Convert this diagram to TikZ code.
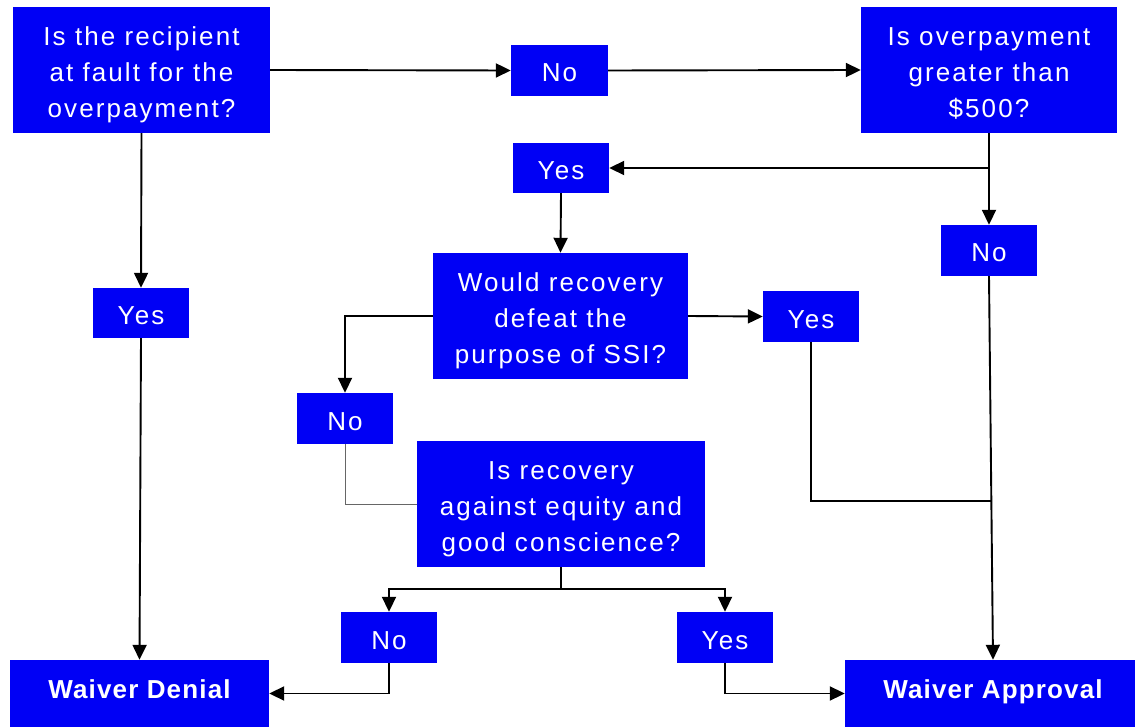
\documentclass[tikz,border=0pt]{standalone}
\usepackage{fontspec}
\setmainfont{Liberation Sans}[LetterSpace=8]
\usetikzlibrary{arrows.meta}
\definecolor{boxblue}{RGB}{0,0,245}
\tikzset{
  box/.style={fill=boxblue, text=white, inner sep=0pt, align=center,
    font=\fontsize{26}{36}\selectfont},
  onebox/.style={box, text height=25pt, text depth=2pt},
  threebox/.style={box, text height=97pt, text depth=2.6pt},
  endbox/.style={box, font=\fontsize{26}{36}\selectfont\bfseries\addfontfeature{LetterSpace=4.5},
    text height=18pt, text depth=9pt},
  arr/.style={draw=black, line width=1.9pt, -{Triangle[length=15pt,width=14pt]}},
  ln/.style={draw=black, line width=1.9pt},
  thinln/.style={draw=black!60, line width=1pt}
}
\begin{document}
\begin{tikzpicture}[x=1pt,y=-1pt]
\clip (0,0) rectangle (1135,727);
\fill[white] (0,0) rectangle (1135,727);
% nodes
\node[threebox, minimum width=257pt, minimum height=126pt] (A) at (141.5,70) {Is the recipient\\at fault for the\\overpayment?};
\node[onebox, minimum width=97pt, minimum height=51pt] (No1) at (559.5,70.5) {No};
\node[threebox, minimum width=256pt, minimum height=126pt] (B) at (989,70) {Is overpayment\\greater than\\\$500?};
\node[onebox, minimum width=96pt, minimum height=50pt] (Yes2) at (561,168) {Yes};
\node[onebox, minimum width=96pt, minimum height=51pt] (No3) at (989,250.5) {No};
\node[onebox, minimum width=96pt, minimum height=50pt] (Yes1) at (141,313) {Yes};
\node[threebox, minimum width=255pt, minimum height=126pt] (C) at (560.5,316) {Would recovery\\defeat the\\purpose of SSI?};
\node[onebox, minimum width=96pt, minimum height=51pt] (Yes3) at (811,316.5) {Yes};
\node[onebox, minimum width=96pt, minimum height=51pt] (No4) at (345,418.5) {No};
\node[threebox, minimum width=288pt, minimum height=126pt] (D) at (561,504) {Is recovery\\against equity and\\good conscience?};
\node[onebox, minimum width=96pt, minimum height=51pt] (No5) at (389,637.5) {No};
\node[onebox, minimum width=96pt, minimum height=51pt] (Yes5) at (725,637.5) {Yes};
\node[endbox, minimum width=259pt, minimum height=67pt] (Den) at (139.5,693.5) {Waiver Denial};
\node[endbox, minimum width=296pt, minimum height=67pt] (App) at (993,693.5) {Waiver Approval};
\coordinate (J) at (992,501);
% connectors
\draw[arr] (A.east) -- (No1.west);
\draw[arr] (No1.east) -- (B.west);
\draw[arr] (B.south) -- (No3.north);
\draw[arr] (B.south) |- (Yes2.east);
\draw[arr] (Yes2.south) -- (C.north);
\draw[arr] (A.south) -- (Yes1.north);
\draw[arr] (Yes1.south) -- (Den.north);
\draw[arr] (C.east) -- (Yes3.west);
\draw[arr] (C.west) -| (No4.north);
\draw[thinln] (No4.south) |- (D.west);
\draw[arr] (D.south) -- ++(0,22) -| (No5.north);
\draw[arr] (D.south) -- ++(0,22) -| (Yes5.north);
\draw[arr] (No5.south) |- (Den.east);
\draw[arr] (Yes5.south) |- (App.west);
\draw[arr] (No3.south) -- (App.north);
\draw[ln] (Yes3.south) |- (J);
\end{tikzpicture}
\end{document}
